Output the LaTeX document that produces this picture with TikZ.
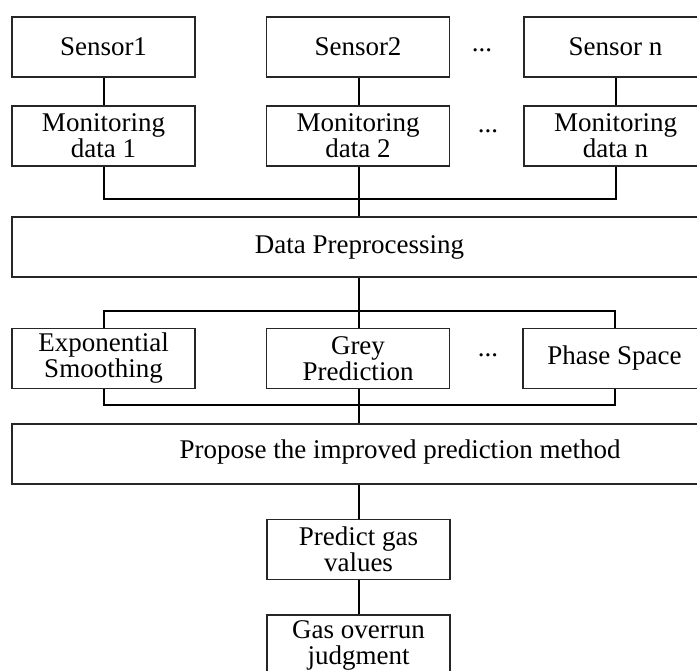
\documentclass[tikz,border=0pt]{standalone}
\usepackage{fontspec}
\setmainfont{Liberation Serif}
\usetikzlibrary{backgrounds}
\begin{document}
\begin{tikzpicture}[x=1pt,y=-1pt,
  box/.style={draw=black!85, line width=1.3pt, fill=white, inner sep=0pt,
    minimum width=183pt, minimum height=60pt, align=center,
    font=\fontsize{27}{26}\selectfont},
  wide/.style={box, minimum width=695pt},
  txt/.style={inner sep=0pt, font=\fontsize{27}{26}\selectfont},
  link/.style={draw=black, line width=2pt}]
\useasboundingbox (0,0) rectangle (697,671);
\clip (0,0) rectangle (697,671);

% sensors
\node[box] (s1) at (103.5,47) {Sensor1};
\node[box] (s2) at (358,47) {Sensor2};
\node[box] (sn) at (615.5,47) {Sensor n};
\node[txt] (d1) at (482,50) {...};

% monitoring data
\node[box] (m1) at (103.5,136) {Monitoring\\data 1};
\node[box] (m2) at (358,136) {Monitoring\\data 2};
\node[box] (mn) at (615.5,136) {Monitoring\\data n};
\node[txt] (d2) at (488,131) {...};

% preprocessing
\node[wide] (dp) at (359.5,247) {Data Preprocessing};

% candidate methods
\node[box] (e) at (103.5,358.5) {Exponential\\Smoothing};
\node[box] (g) at (358,358.5) {Grey\\Prediction};
\node[box] (p) at (614.5,358.5) {Phase Space};
\node[txt] (d3) at (488,355) {...};

% improved method
\node[wide] (prop) at (359.5,454) {};
\node[txt] (proptext) at (400,452) {Propose the improved prediction method};

% outputs
\node[box] (pv) at (358.5,549.5) {Predict gas\\values};
\node[box] (go) at (358.5,645) {Gas overrun\\judgment};

\coordinate (b1) at (359,199);
\coordinate (u) at (359,311);
\coordinate (l) at (359,405);

\begin{scope}[on background layer]
  \draw[link] (s1) -- (m1);
  \draw[link] (s2.south -| b1) -- (m2.north -| b1);
  \draw[link] (sn) -- (mn);
  \draw[link] (m1.south) |- (b1) -| (mn.south);
  \draw[link] (m2.south -| b1) -- (dp.north -| b1);
  \draw[link] (e.north) |- (u) -| (p.north);
  \draw[link] (e.south) |- (l) -| (p.south);
  \draw[link] (dp.south -| u) -- (prop.north -| u);
  \draw[link] (prop.south -| pv) -- (pv.north);
  \draw[link] (pv) -- (go);
\end{scope}
\end{tikzpicture}
\end{document}
